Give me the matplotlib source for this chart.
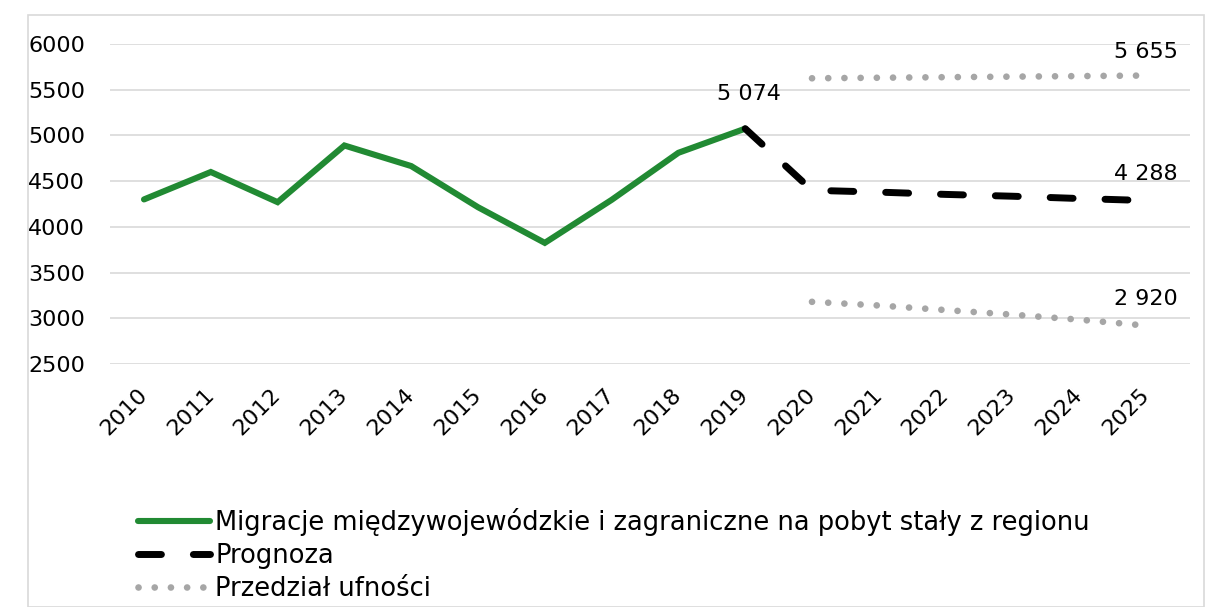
import matplotlib
matplotlib.use("Agg")
import matplotlib.pyplot as plt
from matplotlib.patches import Rectangle
from matplotlib.lines import Line2D

plt.rcParams['font.family'] = ['DejaVu Sans']

years = list(range(2010, 2026))
hist_years = list(range(2010, 2020))
hist_values = [4300, 4600, 4270, 4890, 4665, 4215, 3825, 4295, 4810, 5074]
fc_years = list(range(2019, 2026))
fc_values = [5074, 4400, 4380, 4355, 4335, 4310, 4288]
ci_years = list(range(2020, 2026))
ci_upper = [5625, 5631, 5637, 5643, 5649, 5655]
ci_lower = [3180, 3140, 3090, 3040, 2985, 2920]
legend_labels = ["Migracje międzywojewódzkie i zagraniczne na pobyt stały z regionu",
                 "Prognoza", "Przedział ufności"]

W, H = 1206, 607
fig = plt.figure(figsize=(W/100, H/100), dpi=100)
ax = fig.add_axes([110/W, 1-364/H, 1080/W, 320/H])

green = '#218A33'
gray = '#A6A6A6'
dot_lw = 4.8
dot_dash = (0.01, 2.42)

ax.plot(hist_years, hist_values, color=green, lw=4.4, solid_capstyle='round', solid_joinstyle='miter', zorder=3)
ax.plot(fc_years, fc_values, color='black', lw=5, dashes=(3.3, 4.6), dash_capstyle='round', zorder=3)
ax.plot(ci_years, ci_upper, color=gray, lw=dot_lw, dashes=dot_dash, dash_capstyle='round', zorder=3)
ax.plot(ci_years, ci_lower, color=gray, lw=dot_lw, dashes=dot_dash, dash_capstyle='round', zorder=3)

fs = 16
ax.annotate("5 074", (2019, 5074), xytext=(3, 18), textcoords='offset points', ha='center', va='bottom', fontsize=fs)
ax.annotate("5 655", (2025, 5655), xytext=(0, 10), textcoords='offset points', ha='center', va='bottom', fontsize=fs)
ax.annotate("4 288", (2025, 4288), xytext=(0, 12), textcoords='offset points', ha='center', va='bottom', fontsize=fs)
ax.annotate("2 920", (2025, 2920), xytext=(0, 12), textcoords='offset points', ha='center', va='bottom', fontsize=fs)

sp = (1146-144)/15
ax.set_xlim(2010 - 34/sp, 2025 + 44/sp)
ax.set_ylim(2500, 6000)
ax.set_yticks(range(2500, 6001, 500))
ax.set_xticks(years)
ax.set_xticklabels([str(y) for y in years], rotation=45, ha='right', va='center',
                   rotation_mode='anchor', fontsize=fs)
ax.tick_params(axis='y', labelsize=fs, length=0, pad=18)
ax.tick_params(axis='x', length=0, pad=20)
ax.grid(axis='y', color='#D9D9D9', lw=1.2)
ax.set_axisbelow(True)
for s in ax.spines.values():
    s.set_visible(False)

handles = [Line2D([], [], color=green, lw=4.4, solid_capstyle='round'),
           Line2D([], [], color='black', lw=5, dashes=(3.3, 4.6), dash_capstyle='round'),
           Line2D([], [], color=gray, lw=dot_lw, dashes=dot_dash, dash_capstyle='round')]
fig.legend(handles, legend_labels, loc='upper left', bbox_to_anchor=(138/W, 1-508/H),
           frameon=False, fontsize=18.5, handlelength=2.8, handletextpad=0.2,
           labelspacing=0.27, borderaxespad=0, borderpad=0)

fig.add_artist(Rectangle((28/W, 0), (1204-28)/W, (H-15)/H, transform=fig.transFigure,
                         fill=False, edgecolor='#D9D9D9', lw=1.2))

fig.savefig("out.png", dpi=100)
